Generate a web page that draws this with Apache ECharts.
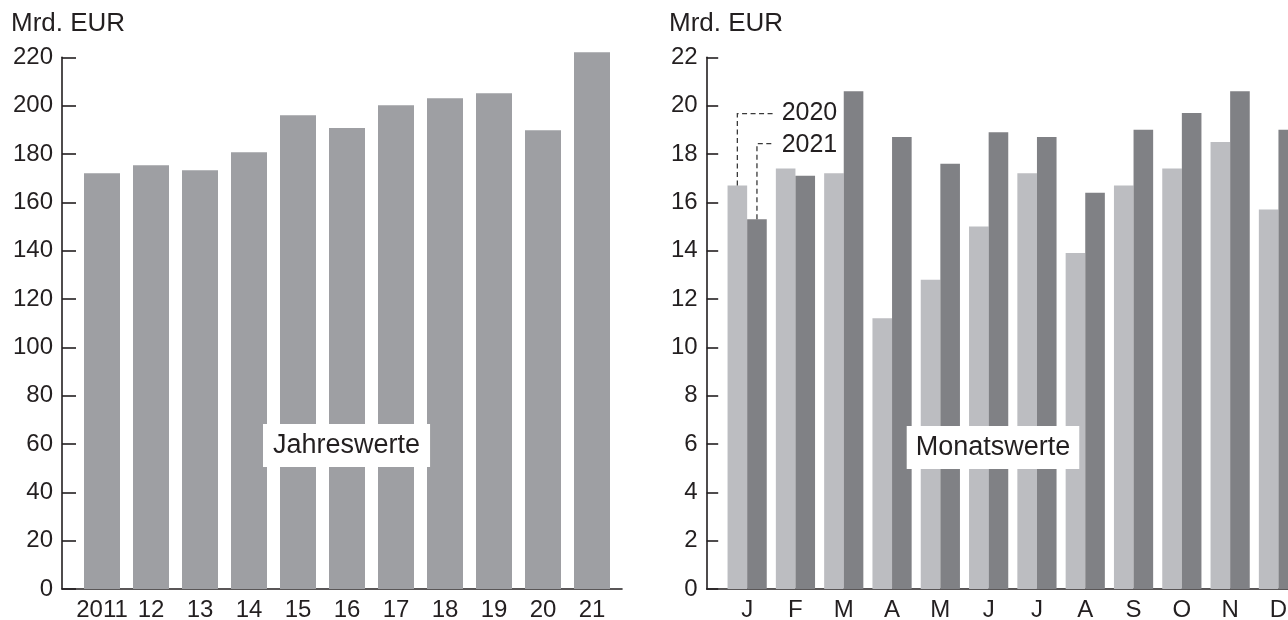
<!DOCTYPE html>
<html><head><meta charset="utf-8">
<script src="https://cdn.jsdelivr.net/npm/echarts@6/dist/echarts.min.js"></script>
<style>html,body{margin:0;padding:0;background:#fff}#c{width:1288px;height:620px}</style>
</head><body><div id="c"></div>
<script>
// ---- data ----
const years = ['2011','12','13','14','15','16','17','18','19','20','21'];
const yearValues = [172.0, 175.3, 173.3, 180.7, 196.0, 190.7, 200.2, 203.1, 205.1, 189.8, 222.1];
const months = ['J','F','M','A','M','J','J','A','S','O','N','D'];
const values2020 = [16.7, 17.4, 17.2, 11.2, 12.8, 15.0, 17.2, 13.9, 16.7, 17.4, 18.5, 15.7];
const values2021 = [15.3, 17.1, 20.6, 18.7, 17.6, 18.9, 18.7, 16.4, 19.0, 19.7, 20.6, 19.0];
const unitLabel = 'Mrd. EUR';
const leftNote = 'Jahreswerte';
const rightNote = 'Monatswerte';
const seriesNames = ['2020', '2021'];

// ---- styles ----
const FONT = '"Liberation Sans", Arial, sans-serif';
const INK = '#231f20';
const C_YEAR = '#9e9fa3';
const C_2020 = '#bcbdc1';
const C_2021 = '#808185';
const TOP = 57.3, BOTTOM = 31;
const BW_M = 19.6;

const chart = echarts.init(document.getElementById('c'), null, {renderer: 'canvas'});

const hiddenY = (gi, max) => ({gridIndex: gi, type: 'value', min: 0, max: max, show: false});
const lineX = (gi) => ({gridIndex: gi, type: 'value', min: 0, max: 1,
  axisLine: {show: true, onZero: false, lineStyle: {color: INK, width: 1.6}},
  axisTick: {show: false}, axisLabel: {show: false}, splitLine: {show: false}});
const valY = (gi, max, interval, tickLen) => ({gridIndex: gi, type: 'value', min: 0, max: max, interval: interval,
  axisLine: {show: true, lineStyle: {color: INK, width: 1.6}},
  axisTick: {show: true, inside: true, length: tickLen, lineStyle: {color: INK, width: 1.6}},
  axisLabel: {fontFamily: FONT, fontSize: 24, color: INK, margin: 9},
  splitLine: {show: false}});
const catX = (gi, data) => ({gridIndex: gi, type: 'category', data: data,
  axisLine: {show: false}, axisTick: {show: false},
  axisLabel: {fontFamily: FONT, fontSize: 24, color: INK, margin: 9, interval: 0}});
const mkGrid = (left, right) => ({left: left, right: right, top: TOP, bottom: BOTTOM,
  containLabel: false, outerBoundsMode: 'none'});

chart.setOption({
  animation: false,
  backgroundColor: '#fff',
  title: [
    {text: unitLabel, left: 11, top: 11, padding: 0, textStyle: {fontFamily: FONT, fontSize: 26, fontWeight: 'normal', color: INK}},
    {text: unitLabel, left: 669, top: 11, padding: 0, textStyle: {fontFamily: FONT, fontSize: 26, fontWeight: 'normal', color: INK}}
  ],
  grid: [
    mkGrid(62, 1288 - 622),
    mkGrid(77.5, 1288 - 616.5),
    mkGrid(706.7, 0),
    mkGrid(723, -14.6)
  ],
  xAxis: [lineX(0), catX(1, years), lineX(2), catX(3, months)],
  yAxis: [valY(0, 220, 20, 14), hiddenY(1, 220), valY(2, 22, 2, 11.5), hiddenY(3, 22)],
  series: [
    {type: 'bar', xAxisIndex: 1, yAxisIndex: 1, data: yearValues, barWidth: 36, clip: false,
     itemStyle: {color: C_YEAR}, z: 1},
    {type: 'bar', name: seriesNames[0], xAxisIndex: 3, yAxisIndex: 3, data: values2020, barWidth: BW_M, barGap: '0%',
     itemStyle: {color: C_2020}, z: 1},
    {type: 'bar', name: seriesNames[1], xAxisIndex: 3, yAxisIndex: 3, data: values2021, barWidth: BW_M, barGap: '0%',
     itemStyle: {color: C_2021}, z: 1}
  ]
});

// annotations derived from the axes
const cx = chart.convertToPixel({xAxisIndex: 3}, 0);
const py = (v) => chart.convertToPixel({yAxisIndex: 3}, v);
const x20 = cx - BW_M / 2, x21 = cx + BW_M / 2;
const yTop20 = py(values2020[0]), yTop21 = py(values2021[0]);
const yL20 = py(19.67), yL21 = py(18.43);
const xEnd = cx + 25.8, xText = cx + 34.5;
const dash = {stroke: '#3a3a3a', lineWidth: 1.3, lineDash: [5, 3.5]};

chart.setOption({
  graphic: [
    {type: 'polyline', z: 10, shape: {points: [[x20, yTop20], [x20, yL20], [xEnd, yL20]]}, style: dash},
    {type: 'polyline', z: 10, shape: {points: [[x21, yTop21], [x21, yL21], [xEnd, yL21]]}, style: dash},
    {type: 'text', z: 10, x: xText, y: yL20 - 1, style: {text: seriesNames[0], font: '25px ' + FONT, fill: INK, verticalAlign: 'middle', align: 'left'}},
    {type: 'text', z: 10, x: xText, y: yL21 + 1.5, style: {text: seriesNames[1], font: '25px ' + FONT, fill: INK, verticalAlign: 'middle', align: 'left'}},
    {type: 'text', z: 10, x: 263, y: 424, style: {text: leftNote, font: '27px ' + FONT, fill: INK, backgroundColor: '#fff', padding: [8, 10, 8, 10]}},
    {type: 'text', z: 10, x: 906.7, y: 426, style: {text: rightNote, font: '27px ' + FONT, fill: INK, backgroundColor: '#fff', padding: [8, 9, 8, 9]}}
  ]
});
</script>
</body></html>
